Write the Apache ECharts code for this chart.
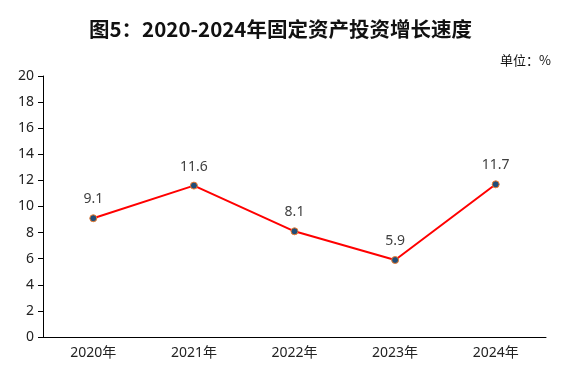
<!DOCTYPE html>
<html>
<head>
<meta charset="utf-8">
<script src="https://cdn.jsdelivr.net/npm/echarts@6/dist/echarts.min.js"></script>
<style>
  html, body { margin: 0; padding: 0; background: #fff; }
  #chart { width: 584px; height: 377px; }
</style>
</head>
<body>
<div id="chart"></div>
<script>
const years = ['2020年', '2021年', '2022年', '2023年', '2024年']
const growth = [9.1, 11.6, 8.1, 5.9, 11.7]

const chart = echarts.init(document.getElementById('chart'))
const font = '"Noto Sans", "Noto Sans CJK SC", sans-serif'

chart.setOption({
  animation: false,
  title: {
    text: '图5：2020-2024年固定资产投资增长速度',
    left: 84,
    top: 14,
    textStyle: {
      fontFamily: '"Noto Sans CJK SC", sans-serif',
      fontSize: 20.5,
      fontWeight: 'bold',
      color: '#111'
    }
  },
  graphic: [{
    type: 'text',
    right: 33,
    top: 54,
    style: {
      text: '单位：%',
      font: '13px "Noto Sans CJK SC", sans-serif',
      fill: '#111'
    }
  }],
  grid: {
    left: 43,
    right: 38,
    top: 76,
    bottom: 40
  },
  xAxis: {
    type: 'category',
    data: years,
    boundaryGap: true,
    axisLine: { lineStyle: { color: '#000', width: 1 } },
    axisTick: { alignWithLabel: true, length: 4, lineStyle: { color: '#000' } },
    axisLabel: { color: '#222', fontSize: 14, fontFamily: font, margin: 9 }
  },
  yAxis: {
    type: 'value',
    min: 0,
    max: 20,
    interval: 2,
    axisLine: { show: true, lineStyle: { color: '#000', width: 1 } },
    axisTick: { show: true, length: 5, lineStyle: { color: '#000' } },
    splitLine: { show: false },
    axisLabel: { color: '#222', fontSize: 14, fontFamily: font, margin: 9 }
  },
  series: [{
    type: 'line',
    data: growth,
    symbol: 'circle',
    symbolSize: 7,
    lineStyle: { color: '#ff0000', width: 2 },
    itemStyle: { color: '#1f4e79', borderColor: '#ed7d31', borderWidth: 1 },
    label: {
      show: true,
      position: 'top',
      distance: 8,
      color: '#404040',
      fontSize: 14,
      fontFamily: font
    }
  }]
})
</script>
</body>
</html>
